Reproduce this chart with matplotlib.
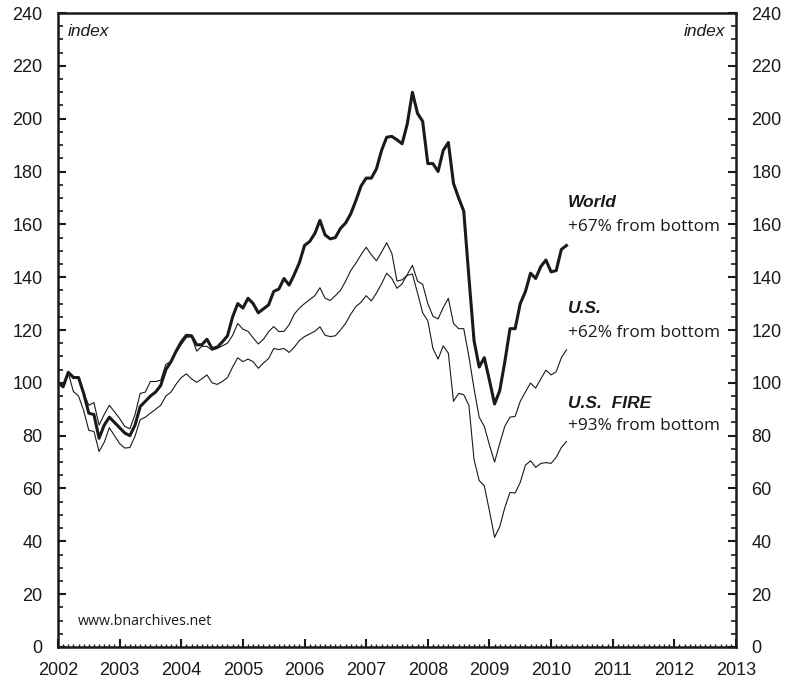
import numpy as np
import matplotlib
matplotlib.use("Agg")
import matplotlib.pyplot as plt
from matplotlib.ticker import MultipleLocator

# === Data: monthly index, Jan 2002 = 100, Jan 2002 .. Apr 2010 ===
world = [100, 98.5, 104, 102, 102, 96, 88.5, 88, 79, 84, 87, 85,
         83, 81, 80, 84, 91, 93, 95, 96.5, 99, 105, 108, 112,
         115.5, 118, 117.8, 114.4, 114.4, 116.5, 113, 113.5, 115.5, 117.8, 125, 130,
         128.3, 132, 130, 126.5, 128, 129.5, 134.6, 135.5, 139.5, 137, 141, 145.5,
         152, 153.5, 156.5, 161.5, 156, 154.5, 155, 158.5, 160.5, 164, 169, 174.5,
         177.5, 177.5, 181, 188, 193, 193.3, 192, 190.5, 198, 210, 202, 199,
         183, 183, 180, 188, 191, 175.5, 170, 165, 140, 116, 106, 109.5,
         101, 92, 97, 108, 120.5, 120.5, 130, 134.5, 141.5, 139.5, 144, 146.5,
         142, 142.5, 150.5, 152]

us = [100, 99, 103.7, 96.7, 95, 89.5, 82, 81.6, 74, 77.5, 83, 80,
      77, 75.3, 75.5, 79.8, 86, 87, 88.5, 90, 91.5, 95, 96.5, 99.5,
      102, 103.4, 101.5, 100.2, 101.5, 103, 100, 99.4, 100.5, 102, 106, 109.5,
      108, 109, 108, 105.5, 107.5, 109.2, 113, 112.6, 113, 111.5, 113.5, 116,
      117.5, 118.5, 119.5, 121.2, 118, 117.5, 117.8, 120, 122.5, 126, 128.9, 130.5,
      133, 131, 134, 137.5, 141.5, 139.5, 135.8, 137.5, 141, 144.5, 138.5, 137.3,
      130, 125.2, 124.2, 128.5, 132, 122.5, 120.5, 120.5, 110, 97.8, 87, 83.5,
      76.5, 70, 77, 83.6, 87, 87.3, 93, 96.5, 99.9, 98, 101.5, 104.8,
      103, 104.2, 109.5, 112.5]

us_fire = [100, 99.5, 104, 102.5, 102, 96, 91.5, 92.5, 84, 88, 91.5, 89,
           86.5, 83.5, 82.6, 88, 96, 96.5, 100.5, 100.5, 101, 107, 108, 111.5,
           114.5, 117.2, 117.5, 112, 113.8, 113.8, 112.3, 113, 114, 115, 118, 122.5,
           120.3, 119.5, 117, 114.7, 116.5, 119.3, 121.3, 119.4, 119.5, 122, 126, 128.3,
           130, 131.5, 133, 136, 132, 131.2, 133, 135, 138.5, 142.5, 145.3, 148.5,
           151.3, 148.5, 146.2, 149.5, 153, 149, 138.5, 139, 140.7, 141.2, 134, 126.5,
           123.5, 113, 109, 114, 111.2, 93, 96, 95.5, 91.5, 71, 63, 61,
           51.5, 41.5, 45.5, 52.8, 58.5, 58.3, 62.3, 68.8, 70.5, 68, 69.5, 69.8,
           69.5, 71.8, 75.5, 77.8]

t = 2002 + np.arange(len(world)) / 12.0

year_ticks = list(range(2002, 2014))
y_ticks = list(range(0, 241, 20))

# === Plot ===
plt.rcParams["font.family"] = ["Liberation Sans", "DejaVu Sans"]
fig = plt.figure(figsize=(7.89, 6.86), dpi=100)
ax = fig.add_axes([0.0735, 0.0569, 0.8593, 0.9241])

ink = "#1a1a1a"
ax.plot(t, us_fire, color=ink, lw=0.8)
ax.plot(t, us, color=ink, lw=0.8)
ax.plot(t, world, color=ink, lw=2.2)

ax.set_xlim(2002, 2013)
ax.set_ylim(0, 240)
ax.set_xticks(year_ticks)
ax.set_xticklabels([str(y) for y in year_ticks])
ax.xaxis.set_minor_locator(MultipleLocator(1 / 12))
ax.set_yticks(y_ticks)
ax.yaxis.set_minor_locator(MultipleLocator(5))

for s in ax.spines.values():
    s.set_linewidth(1.8)
    s.set_color(ink)

ax.tick_params(axis="y", which="both", direction="in", left=True, right=True,
               labelleft=True, labelright=True, labelsize=13, colors=ink)
ax.tick_params(axis="y", which="major", length=6, width=1.5, pad=11)
ax.tick_params(axis="y", which="minor", length=3.5, width=1.2)
ax.tick_params(axis="x", which="both", direction="in", top=False, bottom=True,
               labelsize=13, colors=ink)
ax.tick_params(axis="x", which="major", length=6, width=1.5, pad=11)
ax.tick_params(axis="x", which="minor", length=2.5, width=1.0)

# === Labels ===
ax.text(2002.16, 233, "index", style="italic", fontsize=12.5, color=ink, va="center")
ax.text(2012.82, 233, "index", style="italic", fontsize=12.5, color=ink,
        va="center", ha="right")

lab = dict(fontsize=12.5, color=ink, va="center", ha="left")
sub = dict(fontsize=12.4, color=ink, va="center", ha="left", family="Open Sans")
ax.text(2010.27, 168.2, "World", style="italic", weight="bold", **lab)
ax.text(2010.27, 159.1, "+67% from bottom", **sub)
ax.text(2010.27, 128.0, "U.S.", style="italic", weight="bold", **lab)
ax.text(2010.27, 118.9, "+62% from bottom", **sub)
ax.text(2010.27, 92.0, "U.S.  FIRE", style="italic", weight="bold", **lab)
ax.text(2010.27, 83.7, "+93% from bottom", **sub)

ax.text(2002.32, 9.8, "www.bnarchives.net", fontsize=10.3, color=ink,
        va="center", family="Open Sans")

fig.savefig("out.png", dpi=100)
